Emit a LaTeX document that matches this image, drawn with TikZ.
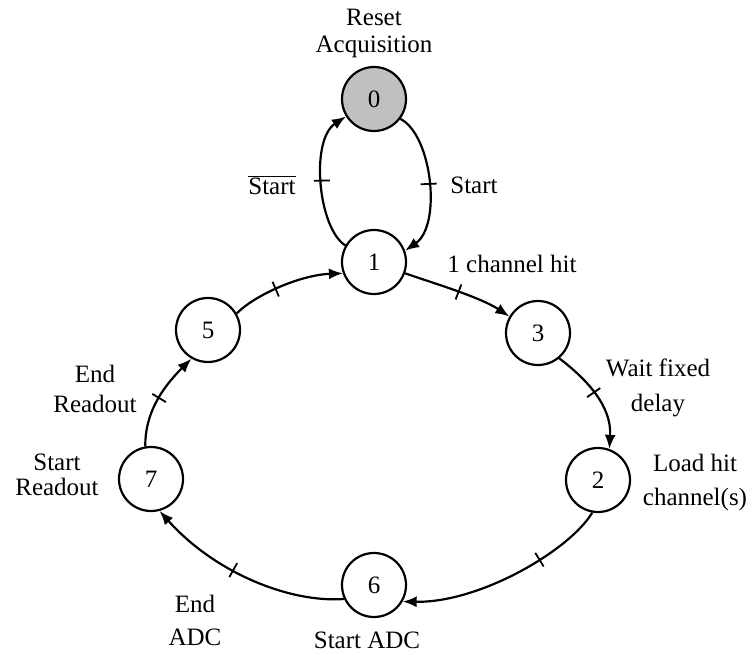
\documentclass[tikz,border=0pt]{standalone}
\usepackage{fontspec}
\setmainfont{Liberation Serif}
\usetikzlibrary{arrows.meta,decorations.markings}
\definecolor{stategray}{RGB}{192,192,192}
\tikzset{
  st/.style={circle,draw,line width=2.2pt,minimum size=64pt,inner sep=0pt,font=\fontsize{25}{27}\selectfont},
  lbl/.style={align=center,inner sep=0pt},
  tr/.style={line width=2.2pt,-{Latex[length=14pt,width=11pt]}},
  tk/.style={postaction={decorate,decoration={markings,mark=at position #1 with {\draw[line width=1.8pt,-] (0,-8pt) -- (0,8pt);}}}},
}
\begin{document}
\begin{tikzpicture}[x=1pt,y=-1pt]
\useasboundingbox (0,0) rectangle (753,655);
% states
\node[st,fill=stategray] (n0) at (374,99) {0};
\node[st] (n1) at (374,262) {1};
\node[st] (n3) at (538,333) {3};
\node[st] (n2) at (598,480) {2};
\node[st] (n6) at (374,585) {6};
\node[st] (n7) at (151,479) {7};
\node[st] (n5) at (208,330) {5};
% labels
\node[lbl,font=\fontsize{25}{27}\selectfont] (lr) at (374,33) {Reset\\Acquisition};
\node[lbl,font=\fontsize{25}{27}\selectfont] (lsb) at (272,185) {$\overline{\hbox{Start}}$};
\node[lbl,font=\fontsize{25}{27}\selectfont] (ls) at (474,185) {Start};
\node[lbl,font=\fontsize{25}{27}\selectfont] (lc) at (512,264) {1 channel hit};
\node[lbl,font=\fontsize{25}{35}\selectfont] (lw) at (658,388) {Wait fixed\\delay};
\node[lbl,font=\fontsize{25}{34}\selectfont] (ll) at (695,482) {Load hit\\channel(s)};
\node[lbl,font=\fontsize{25}{27}\selectfont] (lsa) at (367,640) {Start ADC};
\node[lbl,font=\fontsize{25}{33}\selectfont] (lea) at (195,620) {End\\ADC};
\node[lbl,font=\fontsize{25}{25}\selectfont] (lsr) at (57,475) {Start\\Readout};
\node[lbl,font=\fontsize{25}{30}\selectfont] (ler) at (95,389) {End\\Readout};
% transitions
\draw[tr,tk=0.5] (n1.150) .. controls (318,228) and (310,140) .. (n0.212);
\draw[tr,tk=0.5] (n0.-37) .. controls (432,135) and (442,225) .. (n1.20);
\draw[tr,tk=0.5] (n1.-20) .. controls (430,282) and (480,297) .. (n3.150);
\draw[tr,tk=0.45] (n3.-50) .. controls (585,378) and (612,405) .. (n2.70);
\draw[tr,tk=0.33] (n2.-100) .. controls (570,550) and (480,603) .. (n6.-30);
\draw[tr,tk=0.55] (n6.205) .. controls (290,603) and (215,573) .. (n7.-75);
\draw[tr,tk=0.5] (n7.100) .. controls (145,415) and (160,390) .. (n5.240);
\draw[tr,tk=0.4] (n5.30) .. controls (255,295) and (300,275) .. (n1.200);
\end{tikzpicture}
\end{document}
